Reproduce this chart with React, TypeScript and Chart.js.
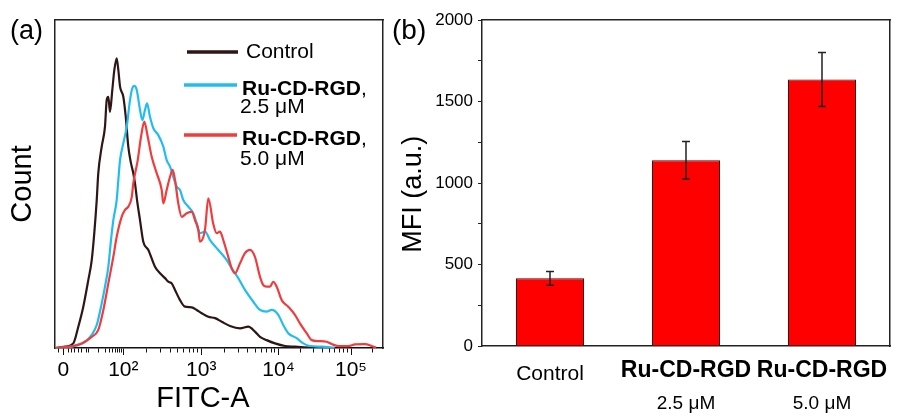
import React, { useEffect, useRef } from 'react';
import { Chart, registerables } from 'chart.js';

Chart.register(...registerables);

const FONT = '"Liberation Sans", Arial, Helvetica, sans-serif';

// ---------- Panel (a): flow cytometry histograms (x = display position, decades) ----------
const controlPts: [number, number][] = [
  [1.13, 0], [1.253, 0.4], [1.359, 1.4], [1.423, 6.5], [1.487, 12.6], [1.551, 20.7], [1.595, 26.8],
  [1.628, 35.1], [1.659, 45.1], [1.679, 53.3], [1.723, 61.4], [1.765, 67.5], [1.787, 75.6], [1.808, 76.6],
  [1.829, 72.0], [1.859, 78.7], [1.885, 84.8], [1.915, 88.3], [1.936, 84.8], [1.958, 79.7], [2.0, 76.6],
  [2.031, 70.5], [2.064, 61.4], [2.099, 56.3], [2.128, 53.3], [2.15, 50.2], [2.176, 45.1], [2.214, 39.0],
  [2.256, 32.4], [2.321, 29.9], [2.406, 24.8], [2.471, 22.8], [2.535, 21.3], [2.577, 20.2], [2.621, 19.7],
  [2.663, 17.7], [2.727, 14.6], [2.791, 12.6], [2.877, 12.4], [2.941, 11.6], [3.005, 10.6], [3.09, 9.5],
  [3.176, 9.1], [3.262, 8.0], [3.368, 6.7], [3.497, 6.0], [3.603, 6.5], [3.688, 5.0], [3.753, 3.4],
  [3.838, 2.4], [3.945, 1.4], [4.073, 0.6], [4.201, 0.4], [4.39, 0.1],
];

const ru25Pts: [number, number][] = [
  [1.13, 0], [1.338, 0.4], [1.509, 1.9], [1.595, 4.0], [1.659, 7.0], [1.723, 13.6], [1.765, 18.7],
  [1.808, 24.8], [1.842, 32.9], [1.872, 39.0], [1.915, 45.1], [1.936, 51.2], [1.958, 57.3], [2.0, 62.4],
  [2.044, 67.5], [2.086, 75.6], [2.115, 79.2], [2.141, 79.9], [2.172, 78.7], [2.214, 72.6], [2.244, 69.5],
  [2.278, 72.6], [2.304, 74.6], [2.342, 70.5], [2.385, 67.0], [2.449, 64.9], [2.513, 61.4], [2.556, 57.3],
  [2.599, 55.3], [2.641, 52.2], [2.685, 49.2], [2.727, 48.2], [2.769, 45.1], [2.833, 43.1], [2.897, 41.1],
  [2.941, 38.0], [2.983, 35.0], [3.047, 35.5], [3.112, 32.9], [3.218, 29.9], [3.326, 26.8], [3.39, 24.3],
  [3.474, 21.3], [3.56, 17.7], [3.667, 14.1], [3.753, 11.6], [3.838, 11.1], [3.903, 11.6], [3.987, 10.1],
  [4.051, 7.0], [4.115, 4.5], [4.223, 3.0], [4.308, 1.4], [4.394, 0.6], [4.544, 0.4], [4.71, 0.1],
];

const ru50Pts: [number, number][] = [
  [1.13, 0], [1.295, 0.4], [1.467, 1.4], [1.595, 3.4], [1.679, 5.5], [1.744, 11.6], [1.808, 19.7],
  [1.872, 27.8], [1.915, 33.9], [1.979, 40.0], [2.022, 42.1], [2.064, 43.1], [2.108, 46.0], [2.128, 50.2],
  [2.185, 57.3], [2.227, 64.4], [2.269, 69.0], [2.313, 64.4], [2.364, 58.3], [2.428, 53.3], [2.492, 48.2],
  [2.513, 44.1], [2.556, 48.2], [2.599, 52.2], [2.633, 54.3], [2.663, 51.2], [2.705, 44.1], [2.749, 40.0],
  [2.813, 41.1], [2.877, 41.6], [2.919, 39.0], [2.962, 36.0], [2.983, 32.4], [3.047, 36.0], [3.09, 45.6],
  [3.154, 37.8], [3.197, 35.0], [3.24, 35.5], [3.282, 32.9], [3.346, 27.8], [3.39, 24.3], [3.432, 22.8],
  [3.496, 25.8], [3.56, 28.9], [3.624, 29.9], [3.688, 27.8], [3.753, 21.7], [3.795, 19.2], [3.838, 18.7],
  [3.881, 18.7], [3.923, 20.2], [3.967, 18.7], [4.031, 14.6], [4.115, 12.6], [4.201, 10.1], [4.265, 7.5],
  [4.351, 4.5], [4.415, 2.4], [4.5, 2.1], [4.608, 1.9], [4.672, 1.2], [4.756, 0.6], [4.885, 0.6],
  [4.971, 1.1], [5.099, 1.2], [5.185, 0.6], [5.24, 0.1],
];

const seriesNames = ['Control', 'Ru-CD-RGD', 'Ru-CD-RGD'];
const seriesSub = ['', '2.5 μM', '5.0 μM'];
const seriesColors = ['#2e1616', '#22bdf0', '#f03c3c'];

const fitcMajorPos = [1.23, 2, 3, 3.99, 4.92];
const fitcMajorLabels = ['0', '10²', '10³', '10⁴', '10⁵'];
const fitcLinearMinor = [1.167, 1.295, 1.33, 1.372, 1.423, 1.467, 1.531, 1.551];
const fitcLowDecade = [1.551, 2];

// ---------- Panel (b): MFI bars ----------
const groups = ['Control', 'Ru-CD-RGD', 'Ru-CD-RGD'];
const groupSub = ['', '2.5 μM', '5.0 μM'];
const mfi = [415, 1140, 1635];
const mfiErr = [42, 115, 165];

function logMinors(a: number, b: number): number[] {
  const out: number[] = [];
  for (let m = 2; m <= 9; m++) out.push(a + Math.log10(m) * (b - a));
  return out;
}

const fitcTicks: number[] = (() => {
  const v: number[] = [...fitcLinearMinor, ...logMinors(fitcLowDecade[0], fitcLowDecade[1]), ...fitcMajorPos];
  for (let i = 1; i < fitcMajorPos.length - 1; i++) v.push(...logMinors(fitcMajorPos[i], fitcMajorPos[i + 1]));
  const last = fitcMajorPos[fitcMajorPos.length - 1];
  const span = fitcMajorPos[fitcMajorPos.length - 1] - fitcMajorPos[fitcMajorPos.length - 2];
  v.push(last + Math.log10(2) * span);
  return v.sort((a, b) => a - b);
})();

const majorIndex = (v: number) => fitcMajorPos.findIndex((p) => Math.abs(p - v) < 1e-6);

const frameAxis = (axis: 'x' | 'y', position: string) => ({
  axis,
  type: 'linear',
  position,
  display: true,
  min: 0,
  max: 1,
  ticks: { display: false },
  grid: { display: false, drawTicks: false },
  border: { display: true, color: '#222', width: 1.5 },
  afterFit: (s: any) => {
    if (axis === 'x') s.height = 0;
    else s.width = 0;
  },
});

const flowDecorPlugin = {
  id: 'flowDecor',
  afterDraw(chart: any) {
    const ctx = chart.ctx as CanvasRenderingContext2D;
    ctx.save();
    ctx.fillStyle = '#000';
    ctx.textBaseline = 'middle';
    ctx.textAlign = 'left';
    ctx.font = `27px ${FONT}`;
    ctx.fillText('(a)', 10, 32);

    const rows = [
      { lineY: 52, lx0: 187, lx1: 238, tx: 246, ty: 52.5, sx: 240, sy: 0 },
      { lineY: 85, lx0: 184, lx1: 237, tx: 242, ty: 89, sx: 240, sy: 107.5 },
      { lineY: 135, lx0: 184, lx1: 237, tx: 242, ty: 139, sx: 240, sy: 159 },
    ];
    rows.forEach((r, i) => {
      ctx.strokeStyle = seriesColors[i];
      ctx.lineWidth = 3.5;
      ctx.beginPath();
      ctx.moveTo(r.lx0, r.lineY);
      ctx.lineTo(r.lx1, r.lineY);
      ctx.stroke();
      if (i === 0) {
        ctx.font = `21px ${FONT}`;
        ctx.fillText(seriesNames[i], r.tx, r.ty);
      } else {
        ctx.font = `bold 21px ${FONT}`;
        ctx.fillText(seriesNames[i], r.tx, r.ty);
        const w = ctx.measureText(seriesNames[i]).width;
        ctx.font = `21px ${FONT}`;
        ctx.fillText(',', r.tx + w, r.ty);
        ctx.fillText(seriesSub[i], r.sx, r.sy);
      }
    });
    ctx.restore();
  },
};

const errorBarPlugin = {
  id: 'errorBars',
  afterDatasetsDraw(chart: any) {
    const ctx = chart.ctx as CanvasRenderingContext2D;
    const yScale = chart.scales.y;
    const meta = chart.getDatasetMeta(0);
    ctx.save();
    ctx.strokeStyle = '#222';
    ctx.lineWidth = 1.5;
    meta.data.forEach((bar: any, i: number) => {
      const x = bar.x;
      const yTop = yScale.getPixelForValue(mfi[i] + mfiErr[i]);
      const yBot = yScale.getPixelForValue(mfi[i] - mfiErr[i]);
      ctx.beginPath();
      ctx.moveTo(x, yTop);
      ctx.lineTo(x, yBot);
      ctx.moveTo(x - 4, yTop);
      ctx.lineTo(x + 4, yTop);
      ctx.moveTo(x - 4, yBot);
      ctx.lineTo(x + 4, yBot);
      ctx.stroke();
    });
    ctx.fillStyle = '#000';
    ctx.textBaseline = 'middle';
    ctx.textAlign = 'left';
    ctx.font = `28px ${FONT}`;
    ctx.fillText('(b)', 2, 31);
    ctx.restore();
  },
};

export default function App() {
  const aRef = useRef<HTMLCanvasElement>(null);
  const bRef = useRef<HTMLCanvasElement>(null);

  useEffect(() => {
    Chart.defaults.font.family = FONT;
    Chart.defaults.color = '#000';

    const seriesPts = [controlPts, ru25Pts, ru50Pts];
    const chartA = new Chart(aRef.current as HTMLCanvasElement, {
      type: 'line',
      data: {
        datasets: seriesPts.map((pts, i) => ({
          label: seriesSub[i] ? `${seriesNames[i]}, ${seriesSub[i]}` : seriesNames[i],
          data: pts.map(([x, y]) => ({ x, y })),
          borderColor: seriesColors[i],
          borderWidth: 2.2,
          pointRadius: 0,
          fill: false,
          cubicInterpolationMode: 'monotone',
        })).reverse(),
      },
      options: {
        animation: false,
        responsive: false,
        events: [],
        layout: { padding: { top: 20, right: 7, left: 0, bottom: 0 } },
        plugins: { legend: { display: false }, tooltip: { enabled: false } },
        scales: {
          x: {
            type: 'linear',
            position: 'bottom',
            min: 1.124,
            max: 5.33,
            afterBuildTicks: (s: any) => {
              s.ticks = fitcTicks.map((v) => ({ value: v }));
            },
            afterFit: (s: any) => {
              s.height = 68;
            },
            ticks: {
              autoSkip: false,
              maxRotation: 0,
              minRotation: 0,
              padding: 3,
              color: '#000',
              font: { size: 21, family: FONT },
              callback: (v: any) => {
                const i = majorIndex(Number(v));
                return i >= 0 ? fitcMajorLabels[i] : '';
              },
            },
            grid: {
              display: true,
              drawOnChartArea: false,
              drawTicks: true,
              tickLength: 7,
              tickColor: '#111',
              tickWidth: 1,
              tickBorderDash: (c: any) => (c.tick && majorIndex(c.tick.value) >= 0 ? [] : [4, 100]),
            },
            border: { display: true, color: '#111', width: 1.5 },
            title: {
              display: true,
              text: 'FITC-A    ',
              color: '#000',
              font: { size: 29, family: FONT },
              padding: { top: 0, bottom: 0 },
            },
          },
          y: {
            type: 'linear',
            min: 0,
            max: 100,
            afterFit: (s: any) => {
              s.width = 55;
            },
            ticks: { display: false },
            grid: { display: false, drawTicks: false },
            border: { display: true, color: '#222', width: 1.5 },
            title: {
              display: true,
              text: 'Count',
              color: '#000',
              font: { size: 29, family: FONT },
              padding: { top: 6, bottom: 0 },
            },
          },
          xTop: frameAxis('x', 'top'),
          yRight: frameAxis('y', 'right'),
        } as any,
      },
      plugins: [flowDecorPlugin],
    } as any);

    const chartB = new Chart(bRef.current as HTMLCanvasElement, {
      type: 'bar',
      data: {
        labels: groups,
        datasets: [
          {
            label: 'MFI',
            data: mfi,
            backgroundColor: '#ff0000',
            borderColor: '#4a0a0a',
            borderWidth: 1,
            barPercentage: 0.5,
            categoryPercentage: 1,
          },
        ],
      },
      options: {
        animation: false,
        responsive: false,
        events: [],
        layout: { padding: { top: 20, right: 14, left: 0, bottom: 0 } },
        plugins: { legend: { display: false }, tooltip: { enabled: false } },
        scales: {
          x: {
            type: 'category',
            position: 'bottom',
            offset: true,
            weight: 0,
            grid: { display: false, drawTicks: false, offset: true },
            border: { display: true, color: '#222', width: 1.5 },
            afterFit: (s: any) => {
              s.height = 40;
            },
            ticks: {
              autoSkip: false,
              maxRotation: 0,
              minRotation: 0,
              padding: 11,
              color: '#000',
              font: (c: any) =>
                c.index === 0
                  ? { size: 21, family: FONT, lineHeight: 1.6 }
                  : { size: 23, family: FONT, weight: 'bold', lineHeight: 1.2 },
            },
          },
          x2: {
            axis: 'x',
            type: 'category',
            labels: groupSub,
            position: 'bottom',
            offset: true,
            weight: 1,
            grid: { display: false, drawTicks: false, offset: true },
            border: { display: false },
            afterFit: (s: any) => {
              s.height = 30;
            },
            ticks: {
              autoSkip: false,
              maxRotation: 0,
              minRotation: 0,
              padding: 6,
              color: '#000',
              font: { size: 19, family: FONT },
            },
          },
          y: {
            type: 'linear',
            min: 0,
            max: 2000,
            afterFit: (s: any) => {
              s.width = 92;
            },
            ticks: {
              stepSize: 250,
              autoSkip: false,
              padding: 5,
              color: '#000',
              font: { size: 17, family: FONT },
              callback: (v: any) => (Number(v) % 500 === 0 ? String(v) : ''),
            },
            grid: {
              display: true,
              drawOnChartArea: false,
              drawTicks: true,
              tickLength: 4,
              tickColor: '#222',
              tickWidth: 1,
            },
            border: { display: true, color: '#222', width: 1.5 },
            title: {
              display: true,
              text: 'MFI (a.u.)   ',
              color: '#000',
              font: { size: 27, family: FONT },
              padding: { top: 7, bottom: 0 },
            },
          },
          xTop: frameAxis('x', 'top'),
          yRight: frameAxis('y', 'right'),
        } as any,
      },
      plugins: [errorBarPlugin],
    } as any);

    return () => {
      chartA.destroy();
      chartB.destroy();
    };
  }, []);

  return (
    <div style={{ position: 'fixed', left: 0, top: 0, width: 904, height: 416, background: '#fff' }}>
      <div style={{ position: 'absolute', left: 0, top: 0, width: 390, height: 416 }}>
        <canvas ref={aRef} width={390} height={416} style={{ width: 390, height: 416, display: 'block' }} />
      </div>
      <div style={{ position: 'absolute', left: 390, top: 0, width: 514, height: 416 }}>
        <canvas ref={bRef} width={514} height={416} style={{ width: 514, height: 416, display: 'block' }} />
      </div>
    </div>
  );
}
